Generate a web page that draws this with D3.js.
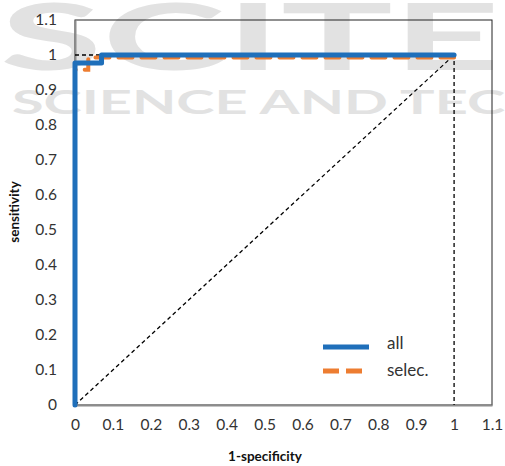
<!DOCTYPE html>
<html>
<head>
<meta charset="utf-8">
<script src="https://cdn.jsdelivr.net/npm/d3@7"></script>
<style>
  body { margin: 0; background: #fff; }
  text { font-family: Lato, "Open Sans", sans-serif; }
</style>
</head>
<body>
<script>
// ROC curves
const allX = [0, 0, 0.07, 0.07, 1];
const allY = [0, 0.977, 0.977, 1, 1];
const selecX = [0, 0, 0.035, 0.035, 1];
const selecY = [0, 0.958, 0.958, 0.993, 0.993];
const refX = [0, 1, 1];
const refY = [1, 1, 0];
const diagX = [0, 1];
const diagY = [0, 1];
const ticks = [0, 0.1, 0.2, 0.3, 0.4, 0.5, 0.6, 0.7, 0.8, 0.9, 1, 1.1];

var width = 505, height = 466;
var margin = {left: 75, right: 13, top: 20, bottom: 61};

var svg = d3.select('body').append('svg')
            .attr("width", width).attr("height", height);

// watermark
var wm = svg.append('g').attr("fill", "#e2e2e2");
wm.append('text').text("SCITE")
  .attr("x", 0).attr("y", 70)
  .attr("font-size", 92).attr("font-weight", "bold")
  .attr("textLength", 500).attr("lengthAdjust", "spacingAndGlyphs");
wm.append('text').text("SCIENCE AND TEC")
  .attr("x", 12).attr("y", 114)
  .attr("font-size", 32).attr("font-weight", "bold")
  .attr("textLength", 493).attr("lengthAdjust", "spacingAndGlyphs");

var x = d3.scaleLinear().domain([0, 1.1]).range([margin.left, width - margin.right]);
var y = d3.scaleLinear().domain([0, 1.1]).range([height - margin.bottom, margin.top]);

// frame
svg.append('rect')
   .attr("x", x(0)).attr("y", y(1.1))
   .attr("width", x(1.1) - x(0)).attr("height", y(0) - y(1.1))
   .attr("fill", "none").attr("stroke", "#222").attr("stroke-width", 1);

var xAxis = d3.axisBottom(x).tickValues(ticks).tickSize(0).tickPadding(14).tickFormat(d3.format(""));
var yAxis = d3.axisLeft(y).tickValues(ticks).tickSize(0).tickPadding(18).tickFormat(d3.format(""));

var gx = svg.append('g').attr("transform", "translate(0," + y(0) + ")").call(xAxis);
var gy = svg.append('g').attr("transform", "translate(" + x(0) + ",0)").call(yAxis);
[gx, gy].forEach(g => {
  g.select('.domain').attr("stroke", "#8c8c8c").attr("stroke-width", 2);
  g.selectAll('text').attr("font-size", 15.5).attr("fill", "#333");
});

var line = d3.line().x(d => x(d[0])).y(d => y(d[1]));
const zip = (a, b) => a.map((v, i) => [v, b[i]]);

// reference lines
svg.append('path').datum(zip(diagX, diagY)).attr("d", line)
   .attr("fill", "none").attr("stroke", "#000").attr("stroke-width", 1.3).attr("stroke-dasharray", "4,3");
svg.append('path').datum(zip(refX, refY)).attr("d", line)
   .attr("fill", "none").attr("stroke", "#000").attr("stroke-width", 1.3).attr("stroke-dasharray", "4,3");

// series
svg.append('path').datum(zip(selecX, selecY)).attr("d", line)
   .attr("fill", "none").attr("stroke", "#ed7d31").attr("stroke-width", 4)
   .attr("stroke-dasharray", "14,9").attr("stroke-linecap", "round");
svg.append('path').datum(zip(allX, allY)).attr("d", line)
   .attr("fill", "none").attr("stroke", "#1f6fba").attr("stroke-width", 5)
   .attr("stroke-linejoin", "round").attr("stroke-linecap", "round");

// legend
var lg = svg.append('g');
lg.append('line').attr("x1", 323).attr("x2", 369).attr("y1", 347).attr("y2", 347)
  .attr("stroke", "#1f6fba").attr("stroke-width", 5);
lg.append('line').attr("x1", 323).attr("x2", 369).attr("y1", 371).attr("y2", 371)
  .attr("stroke", "#ed7d31").attr("stroke-width", 5).attr("stroke-dasharray", "16,7");
lg.append('text').text("all").attr("x", 387).attr("y", 349).attr("font-size", 17).attr("fill", "#333");
lg.append('text').text("selec.").attr("x", 387).attr("y", 376).attr("font-size", 17).attr("fill", "#333");

// axis titles
svg.append('text').text("1-specificity")
   .attr("x", 265).attr("y", 461).attr("text-anchor", "middle")
   .attr("font-size", 13.5).attr("font-weight", "bold").attr("fill", "#111");
svg.append('text').text("sensitivity")
   .attr("transform", "translate(19,212) rotate(-90)").attr("text-anchor", "middle")
   .attr("font-size", 13.5).attr("font-weight", "bold").attr("fill", "#111");
</script>
</body>
</html>
